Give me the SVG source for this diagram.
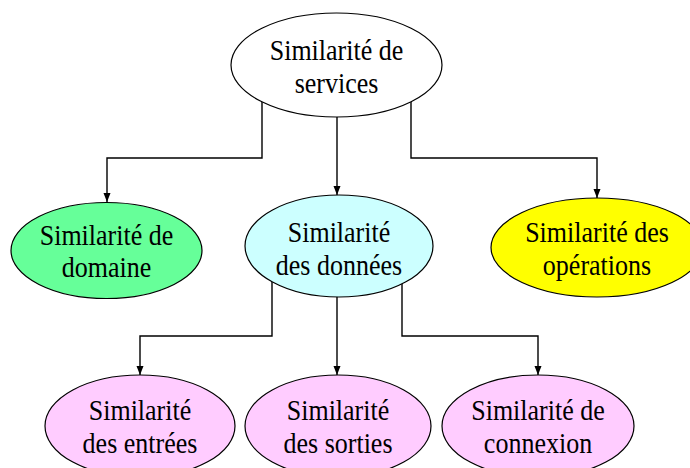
<svg xmlns="http://www.w3.org/2000/svg" width="690" height="468" viewBox="0 0 690 468">
<style>
.node ellipse{stroke:#000;stroke-width:1.2}
.node text{font-family:"Liberation Serif","Times New Roman",serif;font-size:26px;fill:#000;text-anchor:middle}
.conn path{fill:none;stroke:#000;stroke-width:1.4;marker-end:url(#arr)}
</style>
<defs>
<marker id="arr" markerWidth="10" markerHeight="10" refX="9" refY="5" orient="auto" markerUnits="userSpaceOnUse">
<path d="M0,1.5 L9,5 L0,8.5 Z" fill="#000"/>
</marker>
</defs>
<rect width="690" height="468" fill="#fff"/>
<g id="connectors" class="conn">
<path d="M262,102 V158 H107 V202"/>
<path d="M337,117 V195"/>
<path d="M411,102 V158 H597 V198"/>
<path d="M272,282 V336 H140 V375"/>
<path d="M337,297 V375"/>
<path d="M402,284 V336 H538 V375"/>
</g>
<g id="n-services" class="node">
<ellipse cx="336.5" cy="65" rx="105.5" ry="52" fill="#fff"/>
<text transform="matrix(1,0,0,1.1,336.5,60)">Similarité de</text>
<text transform="matrix(1,0,0,1.1,336.5,93)">services</text>
</g>
<g id="n-domaine" class="node">
<ellipse cx="106.5" cy="250.5" rx="95.5" ry="48" fill="#66FF99"/>
<text transform="matrix(1,0,0,1.1,106.5,245)">Similarité de</text>
<text transform="matrix(1,0,0,1.1,106.5,277)">domaine</text>
</g>
<g id="n-donnees" class="node">
<ellipse cx="339" cy="246" rx="94" ry="51" fill="#CCFFFF"/>
<text transform="matrix(1,0,0,1.1,339,242)">Similarité</text>
<text transform="matrix(1,0,0,1.1,339,275)">des données</text>
</g>
<g id="n-operations" class="node">
<ellipse cx="597" cy="247.5" rx="106" ry="49.5" fill="#FFFF00"/>
<text transform="matrix(1,0,0,1.1,597,242)">Similarité des</text>
<text transform="matrix(1,0,0,1.1,597,275)">opérations</text>
</g>
<g id="n-entrees" class="node">
<ellipse cx="140" cy="426" rx="95" ry="51" fill="#FFCCFF"/>
<text transform="matrix(1,0,0,1.1,140,420)">Similarité</text>
<text transform="matrix(1,0,0,1.1,140,453)">des entrées</text>
</g>
<g id="n-sorties" class="node">
<ellipse cx="338" cy="426" rx="93" ry="51" fill="#FFCCFF"/>
<text transform="matrix(1,0,0,1.1,338,420)">Similarité</text>
<text transform="matrix(1,0,0,1.1,338,453)">des sorties</text>
</g>
<g id="n-connexion" class="node">
<ellipse cx="538" cy="426" rx="96" ry="51" fill="#FFCCFF"/>
<text transform="matrix(1,0,0,1.1,538,420)">Similarité de</text>
<text transform="matrix(1,0,0,1.1,538,453)">connexion</text>
</g>
</svg>
